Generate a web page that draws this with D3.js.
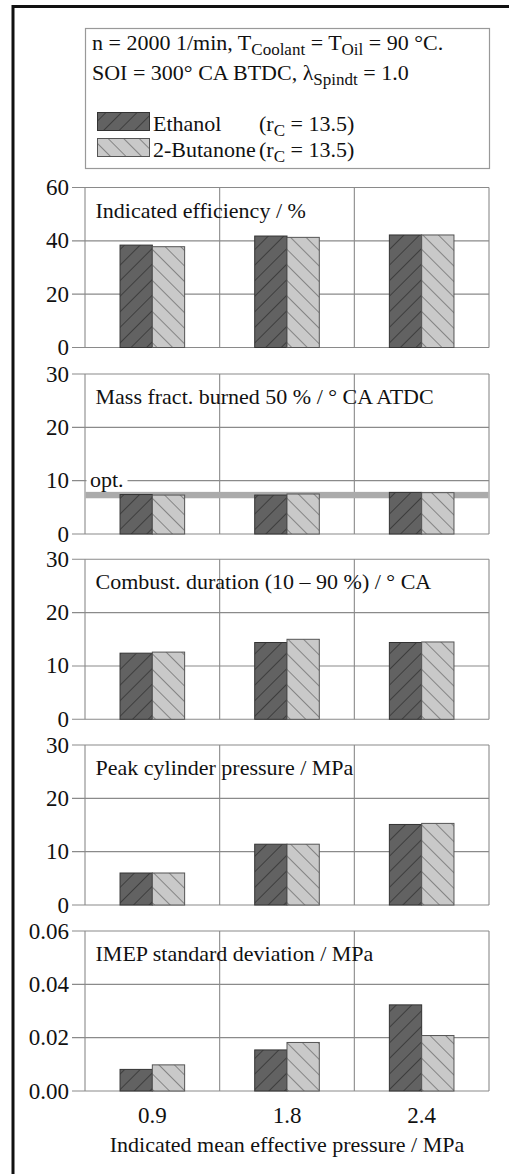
<!DOCTYPE html>
<html>
<head>
<meta charset="utf-8">
<script src="https://cdn.jsdelivr.net/npm/d3@7/dist/d3.min.js"></script>
<style>
  html, body { margin: 0; padding: 0; background: #fff; }
  svg { display: block; }
</style>
</head>
<body>
<div id="chart"></div>
<script>
// ---------- data ----------
const categories = ["0.9", "1.8", "2.4"];
const seriesNames = ["Ethanol", "2-Butanone"];

const efficiencyEthanol = [38.4, 41.8, 42.2];
const efficiencyButanone = [37.8, 41.3, 42.2];

const mfb50Ethanol = [7.4, 7.3, 7.8];
const mfb50Butanone = [7.3, 7.5, 7.75];
const mfb50OptBand = [6.7, 7.9];

const durationEthanol = [12.4, 14.4, 14.4];
const durationButanone = [12.6, 15.0, 14.5];

const peakPressureEthanol = [6.0, 11.4, 15.1];
const peakPressureButanone = [6.0, 11.4, 15.3];

const imepStdEthanol = [0.0081, 0.0154, 0.0323];
const imepStdButanone = [0.0098, 0.0182, 0.0208];

const panelTitles = [
  "Indicated efficiency / %",
  "Mass fract. burned 50 % / ° CA ATDC",
  "Combust. duration (10 – 90 %) / ° CA",
  "Peak cylinder pressure / MPa",
  "IMEP standard deviation / MPa"
];
const panelMax = [60, 30, 30, 30, 0.06];
const panelTicks = [
  [0, 20, 40, 60],
  [0, 10, 20, 30],
  [0, 10, 20, 30],
  [0, 10, 20, 30],
  [0, 0.02, 0.04, 0.06]
];
const panelTickFormat = [d3.format("d"), d3.format("d"), d3.format("d"), d3.format("d"), d3.format(".2f")];
const panelEthanol = [efficiencyEthanol, mfb50Ethanol, durationEthanol, peakPressureEthanol, imepStdEthanol];
const panelButanone = [efficiencyButanone, mfb50Butanone, durationButanone, peakPressureButanone, imepStdButanone];

const xAxisTitle = "Indicated mean effective pressure / MPa";

// ---------- layout ----------
const W = 509, H = 1174;
const plotLeft = 85, plotRight = 489;
const panelTop = [187.5, 374, 559.3, 745, 931];
const panelH = 160;
const FS = 22;
const FONT = "'Liberation Serif', 'Times New Roman', Times, serif";

const svg = d3.select("#chart").append("svg").attr("width", W).attr("height", H)
  .attr("font-family", FONT).style("font-family", FONT);

// patterns
const defs = svg.append("defs");
const p1 = defs.append("pattern").attr("id", "hatchDark").attr("patternUnits", "userSpaceOnUse")
  .attr("width", 11).attr("height", 11).attr("patternTransform", "rotate(45)");
p1.append("rect").attr("width", 11).attr("height", 11).attr("fill", "#626262");
p1.append("line").attr("x1", 0).attr("y1", 0).attr("x2", 0).attr("y2", 11).attr("stroke", "#2a2a2a").attr("stroke-width", 1.3);
const p2 = defs.append("pattern").attr("id", "hatchLight").attr("patternUnits", "userSpaceOnUse")
  .attr("width", 11).attr("height", 11).attr("patternTransform", "rotate(-45)");
p2.append("rect").attr("width", 11).attr("height", 11).attr("fill", "#c9c9c9");
p2.append("line").attr("x1", 0).attr("y1", 0).attr("x2", 0).attr("y2", 11).attr("stroke", "#4a4a4a").attr("stroke-width", 1.1);
const fills = ["url(#hatchDark)", "url(#hatchLight)"];
const strokes = ["#333", "#555"];

// outer frame
svg.append("rect").attr("x", 13).attr("y", 6.5).attr("width", 1000).attr("height", 2000)
  .attr("fill", "none").attr("stroke", "#111").attr("stroke-width", 3);

// legend box
const lg = svg.append("g");
lg.append("rect").attr("x", 85.5).attr("y", 28.5).attr("width", 404).attr("height", 140)
  .attr("fill", "#fff").attr("stroke", "#999").attr("stroke-width", 1.2);

function subText(g, x, y, parts) {
  const t = g.append("text").attr("x", x).attr("y", y).attr("font-size", FS).attr("fill", "#111");
  let shift = 0;
  parts.forEach(p => {
    const sp = t.append("tspan").text(p[0]);
    if (p[1] && shift === 0) { sp.attr("dy", 5).attr("font-size", 17); shift = 5; }
    else if (p[1]) { sp.attr("font-size", 17); }
    else if (shift !== 0) { sp.attr("dy", -shift); shift = 0; }
  });
  return t;
}
subText(lg, 92, 50, [["n = 2000 1/min, T"], ["Coolant", true], [" = T"], ["Oil", true], [" = 90 °C."]]);
subText(lg, 92, 80, [["SOI = 300° CA BTDC, λ"], ["Spindt", true], [" = 1.0"]]);

const legendRows = [131, 157];
seriesNames.forEach((name, i) => {
  lg.append("rect").attr("x", 97.5).attr("y", legendRows[i] - 18.5).attr("width", 52).attr("height", 18)
    .attr("fill", fills[i]).attr("stroke", strokes[i]).attr("stroke-width", 1);
  lg.append("text").attr("x", 153).attr("y", legendRows[i]).attr("font-size", FS).attr("fill", "#111").text(name);
  subText(lg, 259, legendRows[i], [["(r"], ["C", true], [" = 13.5)"]]);
});

// x scale
const x = d3.scaleBand().domain(categories).range([plotLeft, plotRight]).paddingInner(0).paddingOuter(0);
const barW = 32.3;
const xs = d3.scaleBand().domain(seriesNames).range([0, 2 * barW]);

panelTitles.forEach((title, pi) => {
  const top = panelTop[pi];
  const y = d3.scaleLinear().domain([0, panelMax[pi]]).range([top + panelH, top]);
  const g = svg.append("g");

  // gridlines + ticks
  g.selectAll("line.grid").data(panelTicks[pi]).join("line")
    .attr("x1", plotLeft - 13).attr("x2", plotRight)
    .attr("y1", d => y(d)).attr("y2", d => y(d))
    .attr("stroke", "#8a8a8a").attr("stroke-width", 1.1);
  // vertical band separators + frame
  [plotLeft, x("1.8"), x("2.4"), plotRight].forEach(v => {
    g.append("line").attr("x1", v).attr("x2", v).attr("y1", top).attr("y2", top + panelH)
      .attr("stroke", "#8a8a8a").attr("stroke-width", 1.1);
  });
  // tick labels
  g.selectAll("text.tick").data(panelTicks[pi]).join("text")
    .attr("x", plotLeft - 16).attr("y", d => y(d) + 7.5)
    .attr("text-anchor", "end").attr("font-size", FS + 1).attr("fill", "#111")
    .text(d => panelTickFormat[pi](d));

  // opt band
  if (pi === 1) {
    g.append("rect").attr("x", plotLeft + 0.5).attr("width", plotRight - plotLeft - 1)
      .attr("y", y(mfb50OptBand[1])).attr("height", y(mfb50OptBand[0]) - y(mfb50OptBand[1]))
      .attr("fill", "#ababab");
    g.append("rect").attr("x", plotLeft + 1.5).attr("y", y(10) - 2).attr("width", 41).attr("height", 4).attr("fill", "#fff");
    g.append("text").attr("x", plotLeft + 5).attr("y", y(10) + 6.5).attr("font-size", FS).attr("fill", "#111").text("opt.");
  }

  // title
  g.append("text").attr("x", 95.5).attr("y", top + 30).attr("font-size", FS).attr("fill", "#111").text(title);

  // bars
  const rows = categories.map((c, i) => ({ c, vals: [panelEthanol[pi][i], panelButanone[pi][i]] }));
  const grp = g.selectAll("g.grp").data(rows).join("g")
    .attr("transform", d => `translate(${x(d.c) + x.bandwidth() / 2 - barW},0)`);
  grp.selectAll("rect").data(d => d.vals.map((v, k) => ({ v, k }))).join("rect")
    .attr("x", d => xs(seriesNames[d.k]))
    .attr("width", xs.bandwidth())
    .attr("y", d => y(d.v))
    .attr("height", d => y(0) - y(d.v))
    .attr("fill", d => fills[d.k])
    .attr("stroke", d => strokes[d.k]).attr("stroke-width", 1);
});

// x axis labels
svg.selectAll("text.xl").data(categories).join("text")
  .attr("x", d => x(d) + x.bandwidth() / 2).attr("y", 1123)
  .attr("text-anchor", "middle").attr("font-size", FS + 1).attr("fill", "#111").text(d => d);
svg.append("text").attr("x", 287).attr("y", 1152).attr("text-anchor", "middle")
  .attr("font-size", FS).attr("fill", "#111").text(xAxisTitle);
</script>
</body>
</html>
